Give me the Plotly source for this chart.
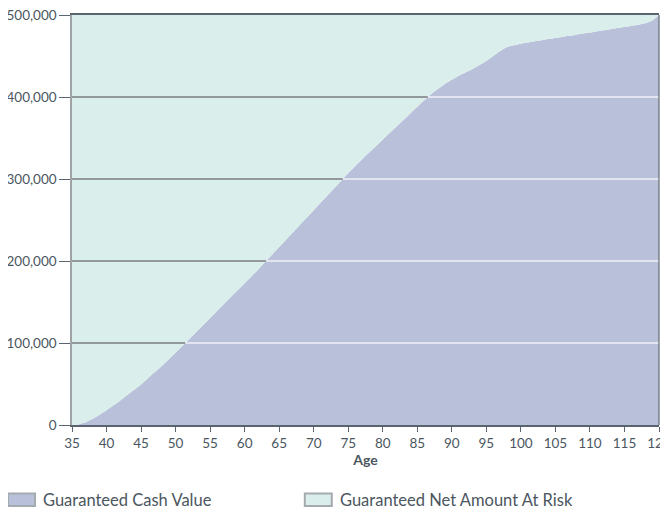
import numpy as np
import plotly.graph_objects as go

# ---- data ----
ages = list(range(35, 121))
cash_value_k = [
    0, 1, 3.5, 7.5, 12.5, 18, 24, 30, 36.5, 43,            # 35-44
    49.5, 57, 64.5, 72, 80, 88, 96.5, 105, 113.5, 122,     # 45-54
    130.5, 139, 147.5, 156, 164.5, 173, 181.5, 190, 199, 208,  # 55-64
    217, 226, 235, 244, 253, 262, 271, 280, 289, 298,      # 65-74
    307, 315.5, 324, 332, 340, 348, 356, 364, 372, 380,    # 75-84
    388, 396, 403.5, 410, 416, 421, 426, 430, 434, 439,    # 85-94
    444, 450, 456, 461, 463, 465, 466.5, 468, 469.3, 470.6,  # 95-104
    472, 473.3, 474.6, 476, 477.3, 478.6, 480, 481.3, 482.6, 484,  # 105-114
    485.3, 486.6, 488, 490, 493, 500                        # 115-120
]
cash_value = [v * 1000 for v in cash_value_k]
death_benefit = 500000
net_amount_at_risk = [death_benefit - c for c in cash_value]

y_ticks = [0, 100000, 200000, 300000, 400000, 500000]
y_tick_labels = ["0", "100,000", "200,000", "300,000", "400,000", "500,000"]
x_ticks = list(range(35, 121, 5))

series_names = ["Guaranteed Cash Value", "Guaranteed Net Amount At Risk"]
PURPLE = "rgb(185,193,218)"
GREEN = "rgb(218,238,235)"
TEXT = "#4b5660"
FONT = "Lato"

fig = go.Figure()
fig.add_trace(go.Scatter(x=ages, y=cash_value, name=series_names[0], stackgroup="one",
                         mode="lines", line=dict(width=0, shape="spline", smoothing=0.5),
                         fillcolor=PURPLE, hoverinfo="skip"))
fig.add_trace(go.Scatter(x=ages, y=net_amount_at_risk, name=series_names[1], stackgroup="one",
                         mode="lines", line=dict(width=0, shape="spline", smoothing=0.5),
                         fillcolor=GREEN, hoverinfo="skip"))

shapes = []
# gridlines: dark over the "at risk" area, white over the cash value area
for yv in y_ticks[1:-1]:
    xc = float(np.interp(yv, cash_value, ages))
    shapes.append(dict(type="line", xref="x", yref="y", x0=ages[0], x1=xc, y0=yv, y1=yv,
                       line=dict(color="rgb(120,124,128)", width=1.3), layer="above"))
    shapes.append(dict(type="line", xref="x", yref="y", x0=xc, x1=ages[-1], y0=yv, y1=yv,
                       line=dict(color="rgb(240,241,246)", width=1.3), layer="above"))
# right border
shapes.append(dict(type="line", xref="paper", yref="paper", x0=1, x1=1, y0=0, y1=1,
                   line=dict(color="rgb(100,108,116)", width=1.2), layer="above"))

# page offset (the page body adds 8px), so figure pixel positions are shifted
OFF = 8
plot_l, plot_r, plot_t, plot_b = 72 - OFF, 659.5 - OFF, 15 - OFF, 425 - OFF
pw, ph = plot_r - plot_l, plot_b - plot_t
def px(x):
    return (x - OFF - plot_l) / pw
def py(y):
    return (plot_b - (y - OFF)) / ph

annotations = []
for (sx, tx, col, name) in [(8, 41, PURPLE, series_names[0]), (305, 338, GREEN, series_names[1])]:
    shapes.append(dict(type="rect", xref="paper", yref="paper",
                       x0=px(sx), x1=px(sx + 27), y0=py(493.5), y1=py(506),
                       fillcolor=col, line=dict(color="rgb(165,170,175)", width=2)))
    annotations.append(dict(xref="paper", yref="paper", x=px(tx), y=py(499.5), text=name,
                            showarrow=False, xanchor="left", yanchor="middle",
                            font=dict(family=FONT, size=16.5, color=TEXT)))

fig.update_layout(
    width=668, height=510,
    margin=dict(l=plot_l, r=668 - plot_r, t=plot_t, b=510 - plot_b, autoexpand=False),
    paper_bgcolor="white", plot_bgcolor="white",
    showlegend=False,
    font=dict(family=FONT, size=13, color=TEXT),
    shapes=shapes, annotations=annotations,
    xaxis=dict(range=[35, 120], tickvals=x_ticks, ticks="outside", ticklen=5,
               tickcolor="rgb(90,100,110)", showgrid=False, zeroline=False,
               showline=True, linecolor="rgb(90,100,110)", linewidth=1.5, mirror=True,
               automargin=False, ticklabeloverflow="allow",
               title=dict(text="<b>Age</b>", standoff=4, font=dict(size=14, color=TEXT)),
               tickfont=dict(size=13.5, color=TEXT)),
    yaxis=dict(range=[0, 500000], tickvals=y_ticks, ticktext=y_tick_labels,
               ticks="outside", ticklen=11, tickcolor="rgb(90,100,110)",
               showgrid=False, zeroline=False, automargin=False, ticklabeloverflow="allow",
               showline=True, linecolor="rgb(160,163,166)", linewidth=1.5,
               tickfont=dict(size=13.5, color=TEXT)),
)

fig.write_html("out.html")
